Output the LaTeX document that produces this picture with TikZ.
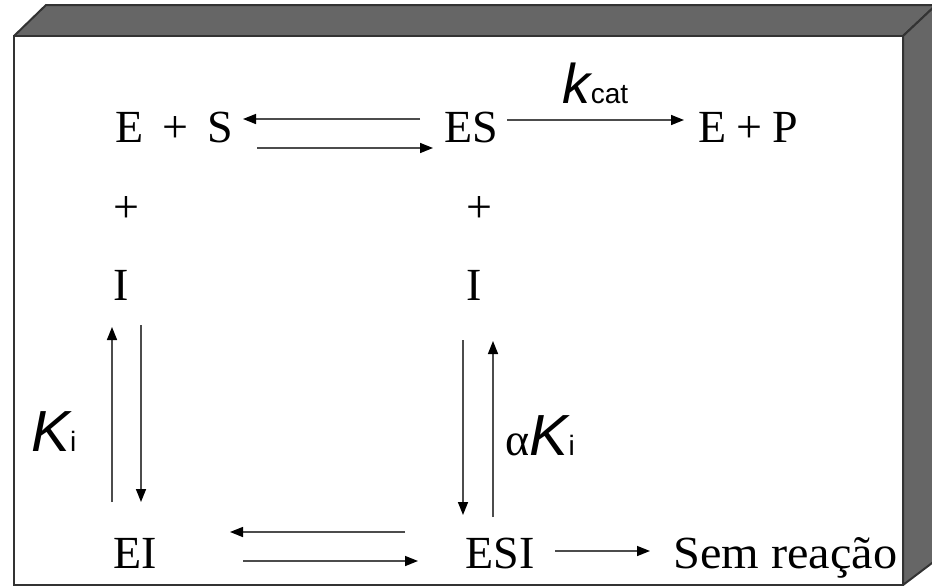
\documentclass[tikz,border=0pt]{standalone}
\usepackage{fontspec}
\setmainfont{Liberation Serif}
\newfontfamily\sansf{Liberation Sans}
\usetikzlibrary{arrows.meta}
\tikzset{
  species/.style={anchor=base, inner sep=0pt, text height=31pt, text depth=0pt, font=\fontsize{46}{50}\selectfont},
  plusnode/.style={anchor=center, inner sep=0pt, font=\fontsize{46}{50}\selectfont},
  rxn/.style={line width=1.5pt, draw=black!70, -{Triangle[length=13pt,width=10pt,color=black]}},
  facefill/.style={fill=black!60, draw=black!80, line width=2pt, line join=round},
}
\begin{document}
\begin{tikzpicture}[x=1pt,y=-1pt]
\useasboundingbox (0,0) rectangle (932,587);
\clip (0,0) rectangle (932,587);
% 3D box
\draw[facefill] (14,36) -- (46,5) -- (936,5) -- (903,36) -- cycle;
\draw[facefill] (903,36) -- (936,5) -- (936,560) -- (903,585) -- cycle;
\draw[fill=white, draw=black!80, line width=2pt] (14,36) rectangle (903,585);
% species
\node[species] (ES0) at (174,142) {E\hspace{0.41em}+\hspace{0.41em}S};
\node[species] (ES) at (471,142) {ES};
\node[species] (EP) at (748,142) {E\hspace{0.22em}+\hspace{0.22em}P};
\node[plusnode] (p1) at (126.5,210) {+};
\node[plusnode] (p2) at (479,210) {+};
\node[species] (I1) at (121,300) {I};
\node[species] (I2) at (474,300) {I};
\node[species] (EI) at (135,568) {EI};
\node[species] (ESI) at (500,568) {ESI};
\node[species, anchor=base west] (SR) at (673,568) {\scalebox{1.05}[1]{Sem reação}};
% top row
\draw[rxn] ([xshift=-51pt,yshift=23pt]ES.base) -- ([xshift=69pt,yshift=23pt]ES0.base);
\draw[rxn] ([xshift=83pt,yshift=-6pt]ES0.base) -- ([xshift=-38pt,yshift=-6pt]ES.base);
\draw[rxn] ([xshift=36pt,yshift=22pt]ES.base) -- node[midway, anchor=base, yshift=17pt, inner sep=0pt]
  {\fontsize{56}{60}\sansf\itshape k\fontsize{28}{30}\upshape cat} ([xshift=-64pt,yshift=22pt]EP.base);
% left verticals
\draw[rxn] ([xshift=-23pt,yshift=66pt]EI.base) -- node[pos=0.29, anchor=base east, xshift=-35pt, inner sep=0pt]
  {\fontsize{58}{60}\sansf\itshape K\fontsize{28}{30}\upshape i} ([xshift=-9pt,yshift=-27pt]I1.base);
\draw[rxn] ([xshift=20pt,yshift=-25pt]I1.base) -- ([xshift=6pt,yshift=66pt]EI.base);
% right verticals
\draw[rxn] ([xshift=-11pt,yshift=-40pt]I2.base) -- ([xshift=-37pt,yshift=53pt]ESI.base);
\draw[rxn] ([xshift=-7pt,yshift=51pt]ESI.base) -- node[pos=0.352, anchor=base west, xshift=12pt, inner sep=0pt]
  {\fontsize{46}{50}\selectfont α\fontsize{58}{60}\sansf\itshape K\fontsize{28}{30}\upshape i} ([xshift=19pt,yshift=-41pt]I2.base);
% bottom row
\draw[rxn] ([xshift=-95pt,yshift=36pt]ESI.base) -- ([xshift=95pt,yshift=36pt]EI.base);
\draw[rxn] ([xshift=108pt,yshift=7pt]EI.base) -- ([xshift=-82pt,yshift=7pt]ESI.base);
\draw[rxn] ([xshift=55pt,yshift=17pt]ESI.base) -- ([xshift=-23pt,yshift=17pt]SR.base west);
\end{tikzpicture}
\end{document}
